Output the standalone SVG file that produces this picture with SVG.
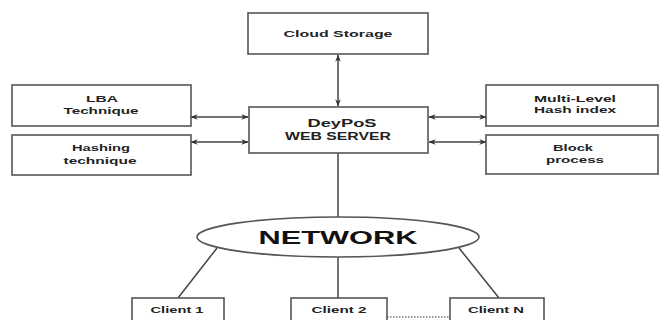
<svg xmlns="http://www.w3.org/2000/svg" width="660" height="320" viewBox="0 0 660 320">
<style>
.box{fill:#fff;stroke:#555;stroke-width:1.6}
.t{font-family:"Liberation Sans",Arial,sans-serif;font-weight:bold;font-size:9.5px;fill:#222;text-anchor:middle}
.tb{font-family:"Liberation Sans",Arial,sans-serif;font-weight:bold;font-size:11px;fill:#222;text-anchor:middle}
.ln{stroke:#444;stroke-width:1.5;fill:none}
.dot{stroke:#777;stroke-width:1.5;stroke-dasharray:1.5 1.5;fill:none}
</style>
<defs>
<marker id="ah" viewBox="0 0 10 8" refX="9.5" refY="4" markerWidth="7" markerHeight="6" orient="auto-start-reverse" markerUnits="userSpaceOnUse">
<path d="M0,0 L10,4 L0,8 L3,4 z" fill="#333"/>
</marker>
</defs>
<rect width="660" height="320" fill="#fff"/>
<g id="connectors">
<line class="ln" x1="338" y1="55" x2="338" y2="106" marker-start="url(#ah)" marker-end="url(#ah)"/>
<line class="ln" x1="191" y1="117" x2="248" y2="117" marker-start="url(#ah)" marker-end="url(#ah)"/>
<line class="ln" x1="191" y1="142" x2="248" y2="142" marker-start="url(#ah)" marker-end="url(#ah)"/>
<line class="ln" x1="429" y1="117" x2="486" y2="117" marker-start="url(#ah)" marker-end="url(#ah)"/>
<line class="ln" x1="429" y1="142" x2="486" y2="142" marker-start="url(#ah)" marker-end="url(#ah)"/>
<line class="ln" x1="338" y1="153" x2="338" y2="217"/>
<line class="ln" x1="217" y1="248" x2="178" y2="298"/>
<line class="ln" x1="338" y1="257" x2="338" y2="298"/>
<line class="ln" x1="459" y1="248" x2="499" y2="298"/>
<line class="dot" x1="387" y1="317" x2="450" y2="317"/>
</g>
<g id="cloud">
<rect class="box" x="248" y="13" width="180" height="41"/>
<text class="t" x="338" y="37" textLength="109" lengthAdjust="spacingAndGlyphs">Cloud Storage</text>
</g>
<g id="lba">
<rect class="box" x="12" y="85" width="179" height="41"/>
<text class="t" x="102" y="102" textLength="32" lengthAdjust="spacingAndGlyphs">LBA</text>
<text class="t" x="101" y="114" textLength="75" lengthAdjust="spacingAndGlyphs">Technique</text>
</g>
<g id="hashing">
<rect class="box" x="12" y="135" width="179" height="40"/>
<text class="t" x="101" y="151" textLength="58" lengthAdjust="spacingAndGlyphs">Hashing</text>
<text class="t" x="100" y="164" textLength="73" lengthAdjust="spacingAndGlyphs">technique</text>
</g>
<g id="server">
<rect class="box" x="249" y="107" width="179" height="46"/>
<text class="tb" x="342" y="127" textLength="69" lengthAdjust="spacingAndGlyphs">DeyPoS</text>
<text class="tb" x="338" y="140" textLength="106" lengthAdjust="spacingAndGlyphs">WEB SERVER</text>
</g>
<g id="multilevel">
<rect class="box" x="486" y="85" width="172" height="41"/>
<text class="t" x="575" y="102" textLength="82" lengthAdjust="spacingAndGlyphs">Multi-Level</text>
<text class="t" x="575" y="113" textLength="82" lengthAdjust="spacingAndGlyphs">Hash index</text>
</g>
<g id="block">
<rect class="box" x="486" y="135" width="172" height="39"/>
<text class="t" x="573" y="151" textLength="40" lengthAdjust="spacingAndGlyphs">Block</text>
<text class="t" x="575" y="163" textLength="58" lengthAdjust="spacingAndGlyphs">process</text>
</g>
<g id="network">
<ellipse cx="338" cy="237" rx="141" ry="20" fill="#fff" stroke="#555" stroke-width="1.6"/>
<text x="338" y="244" font-family="'Liberation Sans',Arial,sans-serif" font-weight="bold" font-size="19" fill="#111" text-anchor="middle" textLength="159" lengthAdjust="spacingAndGlyphs">NETWORK</text>
</g>
<g id="client1">
<rect class="box" x="132" y="298" width="92" height="40"/>
<text class="t" x="177" y="313" textLength="53" lengthAdjust="spacingAndGlyphs">Client 1</text>
</g>
<g id="client2">
<rect class="box" x="291" y="298" width="96" height="40"/>
<text class="t" x="339" y="313" textLength="55" lengthAdjust="spacingAndGlyphs">Client 2</text>
</g>
<g id="clientN">
<rect class="box" x="450" y="298" width="94" height="40"/>
<text class="t" x="496" y="313" textLength="56" lengthAdjust="spacingAndGlyphs">Client N</text>
</g>
</svg>
